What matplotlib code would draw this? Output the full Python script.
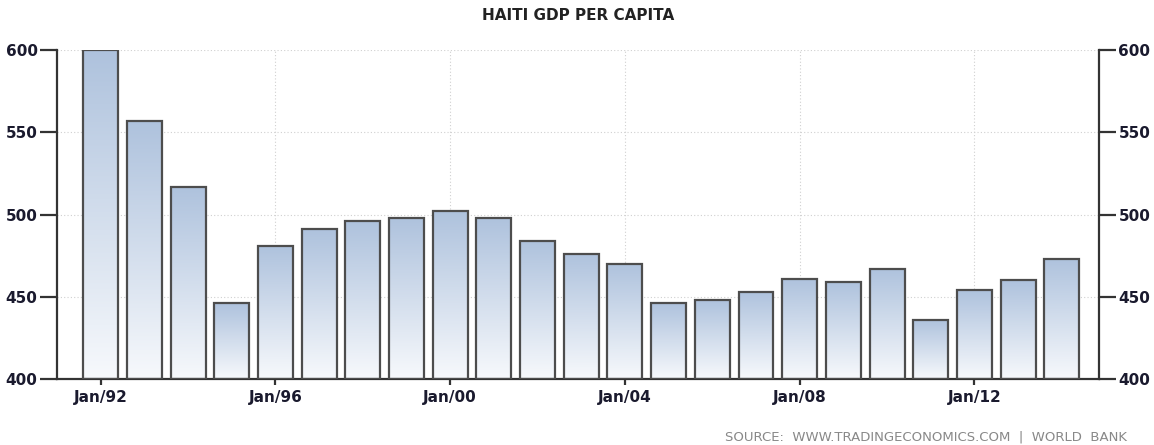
import numpy as np
from matplotlib import pyplot as plt
from matplotlib.colors import LinearSegmentedColormap

# data
years = list(range(1992, 2015))
gdp = [600, 557, 517, 446, 481, 491, 496, 498, 502, 498, 484, 476, 470,
       446, 448, 453, 461, 459, 467, 436, 454, 460, 473]
tick_years = [1992, 1996, 2000, 2004, 2008, 2012]
tick_labels = ['Jan/92', 'Jan/96', 'Jan/00', 'Jan/04', 'Jan/08', 'Jan/12']
y_ticks = [400, 450, 500, 550, 600]

text_color = '#1a1a2e'
grad = LinearSegmentedColormap.from_list('bar', ['#f7f9fc', '#aec2dd'])

fig = plt.figure(figsize=(11.54, 4.45), dpi=100)
ax = fig.add_axes([0.0494, 0.1483, 0.9029, 0.7393])

bars = ax.bar(years, [v - 400 for v in gdp], bottom=400, width=0.8,
              facecolor='none', edgecolor='#4d4d4d', linewidth=1.6, zorder=3)
for b in bars:
    b.set_joinstyle('miter')

# vertical gradient inside each bar
g = np.linspace(0, 1, 256).reshape(-1, 1)
for b in bars:
    x0, y0 = b.get_x(), b.get_y()
    im = ax.imshow(g, cmap=grad, origin='lower', aspect='auto',
                   extent=(x0, x0 + b.get_width(), y0, y0 + b.get_height()),
                   zorder=2)
    im.set_clip_path(b)

ax.set_xlim(1991.0, 2014.85)
ax.set_ylim(400, 600)

ax.set_xticks(tick_years)
ax.set_xticklabels(tick_labels)
ax.set_yticks(y_ticks)
ax.grid(True, color='#d0d0d0', linestyle=(0, (1, 2)), linewidth=0.8, zorder=0)

ax.spines['top'].set_visible(False)
for s in ['left', 'right', 'bottom']:
    ax.spines[s].set_color('#333333')
    ax.spines[s].set_linewidth(1.6)

ax.tick_params(axis='y', which='both', direction='out', length=12, width=1.6,
               color='#333333', labelsize=11, labelcolor=text_color,
               left=True, right=True, labelleft=True, labelright=True, pad=2)
ax.tick_params(axis='x', direction='out', length=4, width=1.6, color='#333333',
               labelsize=11, labelcolor=text_color, pad=4)
for lab in ax.get_xticklabels() + ax.get_yticklabels():
    lab.set_fontweight('semibold')
for lab in ax.yaxis.get_ticklabels(which='both'):
    lab.set_fontweight('semibold')

fig.text(0.501, 0.965, 'HAITI GDP PER CAPITA', ha='center', va='center',
         fontsize=11, fontweight='bold', color='#222222')
fig.text(0.977, 0.018, 'SOURCE:  WWW.TRADINGECONOMICS.COM  |  WORLD  BANK',
         ha='right', va='center', fontsize=9.5, color='#888888')

fig.savefig('out.png', dpi=100)
